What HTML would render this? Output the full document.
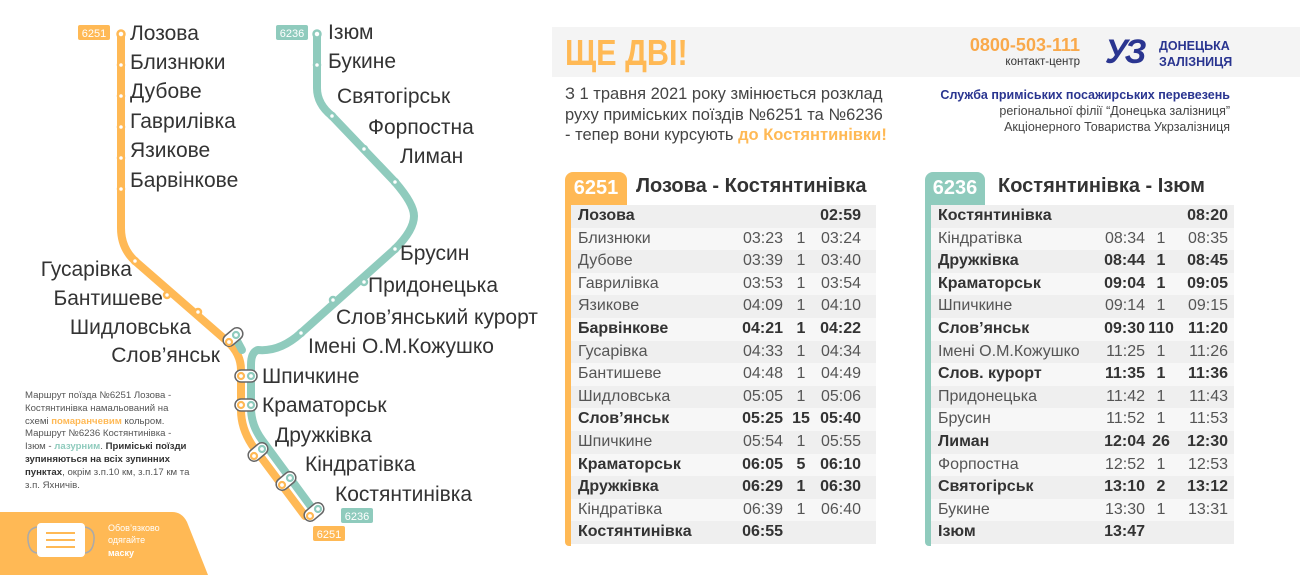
<!DOCTYPE html>
<html><head><meta charset="utf-8"><style>
*{margin:0;padding:0;box-sizing:border-box}
body{width:1300px;height:575px;background:#fff;position:relative;overflow:hidden;font-family:"Liberation Sans","DejaVu Sans",sans-serif;color:#333}
.abs{position:absolute;white-space:nowrap}
.tbl{position:absolute;top:205px;width:305px}
.r{position:relative;height:22.6px;font-size:16px;color:#555;line-height:22.6px}
.r:nth-child(odd){background:#efefef}
.r:nth-child(even){background:#f7f7f7}
.r.b{font-weight:bold;color:#333}
.r span{position:absolute;top:0}
.n{left:7px}
.a{left:140px;width:72px;text-align:right}
.s{left:216px;width:28px;text-align:center}
.t2 .a{left:140px;width:74px}
.t2 .s{left:215px;width:30px}
.d{left:240px;width:50px;text-align:right}
.t2 .d{left:245px;width:52px}
.tab{position:absolute;top:172px;height:34px;border-radius:8px 8px 0 0;color:#fff;font-weight:bold;font-size:20px;line-height:32px;text-align:center}
.bar{position:absolute;top:200px;width:6px;height:346px;border-radius:0 0 0 4px}
.ttl{position:absolute;top:175px;font-size:20px;font-weight:bold;color:#333}
</style></head><body>

<svg class="abs" style="left:0;top:0" width="560" height="575" viewBox="0 0 560 575">
 <g fill="none" stroke-linecap="round" stroke-linejoin="round">
  <path d="M121 34 V228 Q121 248 135 261 L228 342 Q241 354 241 370 V410 Q241 428 252 445 L305 516" stroke="#ffb955" stroke-width="8"/>
  <path d="M317 34 V88 Q317 104 332 116 L395 182 Q414 204 414 216 Q414 230 395 249 L301 333 Q280 352 258 350 Q251 352 251 365 V408 Q251 425 262 440 L312 508" stroke="#8fcbbd" stroke-width="8"/>
  <path d="M242 350 L235 337" stroke="#8fcbbd" stroke-width="8"/>
 </g>
 <g fill="#fff" stroke="#ffb955" stroke-width="2.5">
  <circle cx="121" cy="34" r="3.5"/><circle cx="121" cy="65" r="3"/><circle cx="121" cy="96" r="3"/><circle cx="121" cy="127" r="3"/><circle cx="121" cy="158" r="3"/><circle cx="121" cy="189" r="3"/>
  <circle cx="135" cy="261" r="3"/><circle cx="167" cy="295" r="3"/><circle cx="198" cy="312" r="3"/>
 </g>
 <g fill="#fff" stroke="#8fcbbd" stroke-width="2.5">
  <circle cx="317" cy="34" r="3.5"/><circle cx="317" cy="65" r="3"/><circle cx="332" cy="116" r="3"/><circle cx="364" cy="149" r="3"/><circle cx="395" cy="182" r="3"/><circle cx="395" cy="249" r="3"/><circle cx="364" cy="282" r="3"/><circle cx="333" cy="300" r="3"/><circle cx="301" cy="333" r="3"/>
 </g>
 <g fill="#fff" stroke="#666" stroke-width="1.5">
  <rect x="222" y="331" width="22" height="12" rx="6" transform="rotate(-40 233 337)"/>
  <rect x="235" y="370" width="22" height="12" rx="6"/>
  <rect x="235" y="399" width="22" height="12" rx="6"/>
  <rect x="247" y="446" width="22" height="12" rx="6" transform="rotate(-40 258 452)"/>
  <rect x="275" y="475" width="22" height="12" rx="6" transform="rotate(-40 286 481)"/>
  <rect x="303" y="506" width="22" height="12" rx="6" transform="rotate(-40 314 512)"/>
 </g>
 <g fill="#fff" stroke-width="2.2">
  <circle cx="229" cy="342" r="3" stroke="#ffb955"/><circle cx="236" cy="335" r="3" stroke="#8fcbbd"/>
  <circle cx="241" cy="376" r="3" stroke="#ffb955"/><circle cx="251" cy="376" r="3" stroke="#8fcbbd"/>
  <circle cx="241" cy="405" r="3" stroke="#ffb955"/><circle cx="251" cy="405" r="3" stroke="#8fcbbd"/>
  <circle cx="254" cy="456" r="3" stroke="#ffb955"/><circle cx="262" cy="449" r="3" stroke="#8fcbbd"/>
  <circle cx="282" cy="485" r="3" stroke="#ffb955"/><circle cx="290" cy="478" r="3" stroke="#8fcbbd"/>
  <circle cx="310" cy="516" r="3" stroke="#ffb955"/><circle cx="318" cy="509" r="3" stroke="#8fcbbd"/>
 </g>
 <rect x="78" y="25" width="32" height="15" rx="2" fill="#ffb955"/><text x="94" y="37" fill="#fff" font-size="11" text-anchor="middle" font-family="Liberation Sans">6251</text>
 <rect x="276" y="25" width="32" height="15" rx="2" fill="#8fcbbd"/><text x="292" y="37" fill="#fff" font-size="11" text-anchor="middle" font-family="Liberation Sans">6236</text>
 <rect x="341" y="508" width="32" height="15" rx="2" fill="#8fcbbd"/><text x="357" y="520" fill="#fff" font-size="11" text-anchor="middle" font-family="Liberation Sans">6236</text>
 <rect x="313" y="526" width="32" height="15" rx="2" fill="#ffb955"/><text x="329" y="538" fill="#fff" font-size="11" text-anchor="middle" font-family="Liberation Sans">6251</text>
 <g font-family="Liberation Sans" font-size="21" fill="#333">
  <text x="130" y="40">Лозова</text><text x="130" y="69">Близнюки</text><text x="130" y="98">Дубове</text><text x="130" y="128">Гаврилівка</text><text x="130" y="157">Язикове</text><text x="130" y="187">Барвінкове</text>
  <g text-anchor="end"><text x="132" y="276">Гусарівка</text><text x="163" y="305">Бантишеве</text><text x="191" y="334">Шидловська</text><text x="220" y="362">Слов’янськ</text></g>
  <text x="328" y="39">Ізюм</text><text x="328" y="68">Букине</text><text x="337" y="103">Святогірськ</text><text x="368" y="134">Форпостна</text><text x="400" y="163">Лиман</text>
  <text x="400" y="260">Брусин</text><text x="368" y="292">Придонецька</text><text x="336" y="324">Слов’янський курорт</text><text x="308" y="353">Імені О.М.Кожушко</text>
  <text x="262" y="383">Шпичкине</text><text x="262" y="412">Краматорськ</text><text x="275" y="442">Дружківка</text><text x="305" y="471">Кіндратівка</text><text x="335" y="501">Костянтинівка</text>
 </g>
 <path d="M0 512 H172 Q182 512 187 522 L208 575 H0 Z" fill="#ffb955"/>
 <path d="M37 527 Q27 529 28 540 Q29 552 37 553 M85 527 Q95 529 94 540 Q93 552 85 553" fill="none" stroke="#aaa" stroke-width="1.5"/>
 <rect x="37" y="523" width="48" height="34" rx="4" fill="#fff"/>
 <g stroke="#ffb955" stroke-width="2"><line x1="46" y1="533" x2="75" y2="533"/><line x1="46" y1="540" x2="75" y2="540"/><line x1="46" y1="547" x2="75" y2="547"/></g>
 <g font-family="Liberation Sans" font-size="9" fill="#fff"><text x="108" y="531">Обов’язково</text><text x="108" y="543">одягайте</text><text x="108" y="556" font-weight="bold">маску</text></g>
</svg>

<div class="abs" style="left:25px;top:390px;font-size:9.6px;line-height:12.8px;color:#555">Маршрут поїзда №6251 Лозова -<br>Костянтинівка намальований на<br>схемі <b style="color:#ffb955">помаранчевим</b> кольром.<br>Маршрут №6236 Костянтинівка -<br>Ізюм - <b style="color:#8fcbbd">лазурним</b>. <b style="color:#333">Приміські поїзди<br>зупиняються на всіх зупинних<br>пунктах</b>, окрім з.п.10 км, з.п.17 км та<br>з.п. Яхничів.</div>

<div class="abs" style="left:552px;top:27px;width:748px;height:50px;background:#f4f4f4"></div>
<div class="abs" style="left:565px;top:32px;font-size:36px;font-weight:bold;color:#ffb955;transform:scaleX(0.85);transform-origin:left">ЩЕ ДВІ!</div>
<div class="abs" style="left:962px;top:35px;width:118px;text-align:right;font-size:18px;font-weight:bold;color:#f9a94b">0800-503-111</div>
<div class="abs" style="left:980px;top:56px;width:100px;text-align:right;font-size:11.5px;color:#333">контакт-центр</div>
<div class="abs" style="left:1105px;top:33px;font-size:34px;font-weight:bold;font-style:italic;color:#2a3590;letter-spacing:-3px">УЗ</div>
<div class="abs" style="left:1159px;top:38px;font-size:12.5px;font-weight:bold;color:#2a3590;line-height:16px">ДОНЕЦЬКА<br>ЗАЛІЗНИЦЯ</div>
<div class="abs" style="left:565px;top:84px;font-size:16.5px;line-height:20.5px;color:#444">З 1 травня 2021 року змінюється розклад<br>руху приміських поїздів №6251 та №6236<br>- тепер вони курсують <b style="color:#ffb955">до Костянтинівки!</b></div>
<div class="abs" style="left:900px;top:87px;width:330px;text-align:right;font-size:12.5px;line-height:16px;color:#444"><b style="color:#2a3590">Служба приміських посажирських перевезень</b><br>регіональної філії “Донецька залізниця”<br>Акціонерного Товариства Укрзалізниця</div>

<div class="tab" style="left:565px;width:62px;background:#ffb955">6251</div>
<div class="bar" style="left:565px;background:#ffb955"></div>
<div class="ttl" style="left:636px">Лозова - Костянтинівка</div>
<div class="tbl" style="left:571px">
<div class="r b"><span class="n">Лозова</span><span class="d">02:59</span></div>
<div class="r"><span class="n">Близнюки</span><span class="a">03:23</span><span class="s">1</span><span class="d">03:24</span></div>
<div class="r"><span class="n">Дубове</span><span class="a">03:39</span><span class="s">1</span><span class="d">03:40</span></div>
<div class="r"><span class="n">Гаврилівка</span><span class="a">03:53</span><span class="s">1</span><span class="d">03:54</span></div>
<div class="r"><span class="n">Язикове</span><span class="a">04:09</span><span class="s">1</span><span class="d">04:10</span></div>
<div class="r b"><span class="n">Барвінкове</span><span class="a">04:21</span><span class="s">1</span><span class="d">04:22</span></div>
<div class="r"><span class="n">Гусарівка</span><span class="a">04:33</span><span class="s">1</span><span class="d">04:34</span></div>
<div class="r"><span class="n">Бантишеве</span><span class="a">04:48</span><span class="s">1</span><span class="d">04:49</span></div>
<div class="r"><span class="n">Шидловська</span><span class="a">05:05</span><span class="s">1</span><span class="d">05:06</span></div>
<div class="r b"><span class="n">Слов’янськ</span><span class="a">05:25</span><span class="s">15</span><span class="d">05:40</span></div>
<div class="r"><span class="n">Шпичкине</span><span class="a">05:54</span><span class="s">1</span><span class="d">05:55</span></div>
<div class="r b"><span class="n">Краматорськ</span><span class="a">06:05</span><span class="s">5</span><span class="d">06:10</span></div>
<div class="r b"><span class="n">Дружківка</span><span class="a">06:29</span><span class="s">1</span><span class="d">06:30</span></div>
<div class="r"><span class="n">Кіндратівка</span><span class="a">06:39</span><span class="s">1</span><span class="d">06:40</span></div>
<div class="r b"><span class="n">Костянтинівка</span><span class="a">06:55</span></div>
</div>

<div class="tab" style="left:925px;width:60px;background:#8fcbbd">6236</div>
<div class="bar" style="left:925px;background:#8fcbbd"></div>
<div class="ttl" style="left:998px">Костянтинівка - Ізюм</div>
<div class="tbl t2" style="left:931px;width:303px">
<div class="r b"><span class="n">Костянтинівка</span><span class="d">08:20</span></div>
<div class="r"><span class="n">Кіндратівка</span><span class="a">08:34</span><span class="s">1</span><span class="d">08:35</span></div>
<div class="r b"><span class="n">Дружківка</span><span class="a">08:44</span><span class="s">1</span><span class="d">08:45</span></div>
<div class="r b"><span class="n">Краматорськ</span><span class="a">09:04</span><span class="s">1</span><span class="d">09:05</span></div>
<div class="r"><span class="n">Шпичкине</span><span class="a">09:14</span><span class="s">1</span><span class="d">09:15</span></div>
<div class="r b"><span class="n">Слов’янськ</span><span class="a">09:30</span><span class="s">110</span><span class="d">11:20</span></div>
<div class="r"><span class="n">Імені О.М.Кожушко</span><span class="a">11:25</span><span class="s">1</span><span class="d">11:26</span></div>
<div class="r b"><span class="n">Слов. курорт</span><span class="a">11:35</span><span class="s">1</span><span class="d">11:36</span></div>
<div class="r"><span class="n">Придонецька</span><span class="a">11:42</span><span class="s">1</span><span class="d">11:43</span></div>
<div class="r"><span class="n">Брусин</span><span class="a">11:52</span><span class="s">1</span><span class="d">11:53</span></div>
<div class="r b"><span class="n">Лиман</span><span class="a">12:04</span><span class="s">26</span><span class="d">12:30</span></div>
<div class="r"><span class="n">Форпостна</span><span class="a">12:52</span><span class="s">1</span><span class="d">12:53</span></div>
<div class="r b"><span class="n">Святогірськ</span><span class="a">13:10</span><span class="s">2</span><span class="d">13:12</span></div>
<div class="r"><span class="n">Букине</span><span class="a">13:30</span><span class="s">1</span><span class="d">13:31</span></div>
<div class="r b"><span class="n">Ізюм</span><span class="a">13:47</span></div>
</div>
</body></html>
